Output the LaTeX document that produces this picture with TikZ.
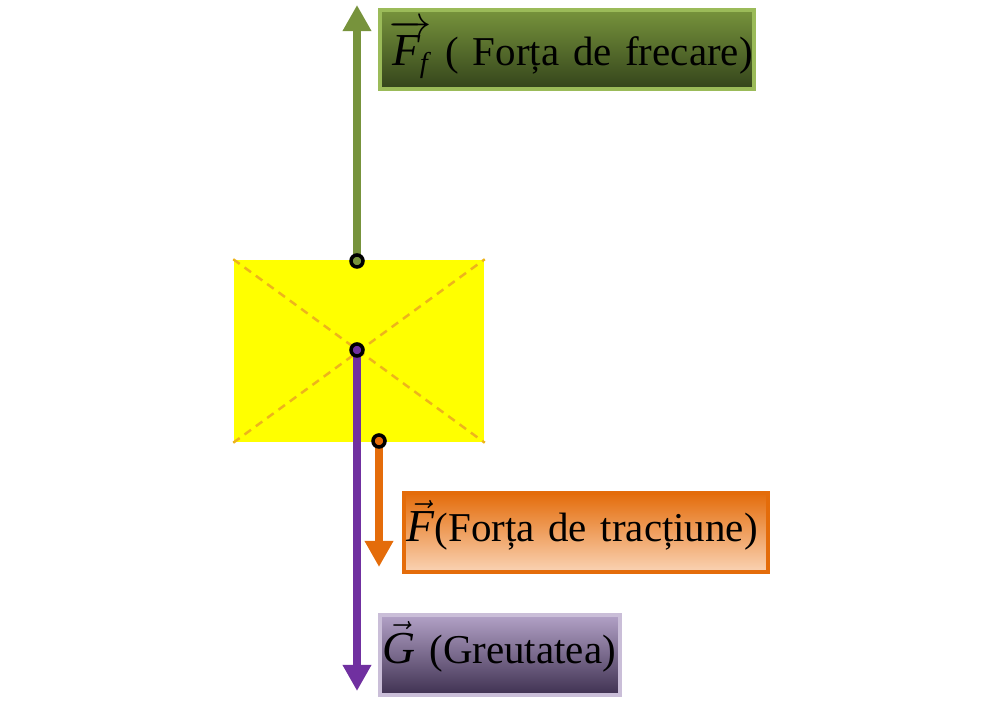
\documentclass[tikz,border=0pt]{standalone}
\usepackage{amsmath}
\usepackage{fontspec}
\setmainfont{Liberation Serif}
\usepackage{xcolor}
\definecolor{galben}{HTML}{FFFF00}
\definecolor{verde}{HTML}{77933C}
\definecolor{verdeinchis}{HTML}{34441B}
\definecolor{verdedeschis}{HTML}{9BBB59}
\definecolor{portocaliu}{HTML}{E46C0A}
\definecolor{piersica}{HTML}{FAD3B4}
\definecolor{violet}{HTML}{7030A0}
\definecolor{lila}{HTML}{B3A2C7}
\definecolor{violetinchis}{HTML}{3F3151}
\definecolor{auriu}{HTML}{EDB41C}
\usetikzlibrary{arrows.meta, positioning}

\begin{document}
\begin{tikzpicture}[x=0.01cm, y=-0.01cm,
    forta/.style={line width=0.085cm, -{Triangle[length=0.26cm, width=0.27cm]}},
    punct/.style={circle, draw=black, line width=1pt, minimum size=0.12cm, inner sep=0pt},
    eticheta/.style={rectangle, anchor=north west, inner xsep=0.03cm, inner ysep=0pt, text height=0.49cm, text depth=0.3cm, align=left, line width=1pt, font=\fontsize{11.65}{14}\selectfont}]

        \useasboundingbox (0,0) rectangle (1000,701);

        % Corpul
        \node[rectangle, fill=galben, minimum width=2.5cm, minimum height=1.82cm, inner sep=0pt] (corp) at (359,351) {};
        \draw[auriu, dashed, line width=0.7pt, dash pattern=on 0.08cm off 0.06cm] (corp.north west) -- (corp.south east);
        \draw[auriu, dashed, line width=0.7pt, dash pattern=on 0.08cm off 0.06cm] (corp.south west) -- (corp.north east);

        % Puncte de aplicatie
        \coordinate (pctFf) at (357,261);
        \coordinate (pctG) at (357,350);
        \coordinate (pctF) at (379,441);

        % Varfuri
        \coordinate (varfFf) at (357,5);
        \coordinate (varfG) at (357,691);
        \coordinate (varfF) at (379,567);

        % Sageti
        \draw[forta, verde] (pctFf) -- (varfFf);
        \draw[forta, violet] (pctG) -- (varfG);
        \draw[forta, portocaliu] (pctF) -- (varfF);

        \node[punct, fill=verde] (pFf) at (pctFf) {};
        \node[punct, fill=violet] (pG) at (pctG) {};
        \node[punct, fill=portocaliu] (pF) at (pctF) {};

        % Etichete
        \node[eticheta, text width=3.54cm, inner xsep=0.1cm, text height=0.56cm, text depth=0.23cm, draw=verdedeschis, top color=verde, bottom color=verdeinchis] (etFf) at (378,8)
            {\mbox{\(\overrightarrow{\text{\fontsize{13}{14}\itshape F}_{\text{\itshape f}}}\) ( Forța de frecare)}};
        \node[eticheta, text width=3.58cm, draw=portocaliu, top color=portocaliu, bottom color=piersica] (etF) at (402,491)
            {\mbox{\(\vec{\text{\fontsize{13}{14}\itshape F}}\)(Forța de tracțiune)}};
        \node[eticheta, text width=2.34cm, text depth=0.31cm, draw=lila!70, top color=lila, bottom color=violetinchis] (etG) at (378,613)
            {\mbox{\(\vec{\text{\fontsize{13}{14}\itshape G}}\) (Greutatea)}};

      \end{tikzpicture}
\end{document}
